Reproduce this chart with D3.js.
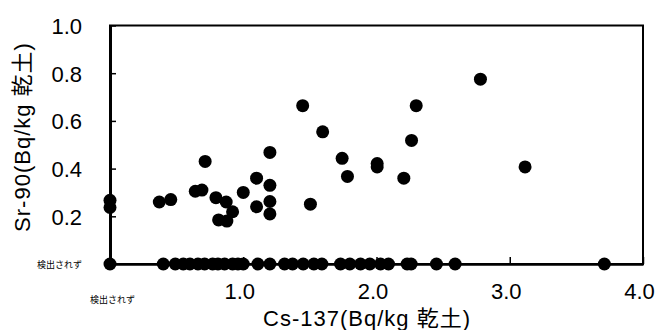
<!DOCTYPE html>
<html><head><meta charset="utf-8">
<script src="https://cdn.jsdelivr.net/npm/d3@7"></script>
<style>
body{margin:0;background:#fff;}
svg text{font-family:"Liberation Sans",Arial,"Noto Sans CJK JP",sans-serif;fill:#000;}
</style></head>
<body><svg id="c" width="657" height="330"></svg>
<script>
// Detected pairs (Cs-137, Sr-90) in Bq/kg dry soil
const detectedCs = [0.37,0.456,0.64,0.69,0.714,0.795,0.815,0.872,0.877,0.92,1.0,1.10,1.10,1.20,1.20,1.20,1.20,1.446,1.504,1.596,1.742,1.782,2.005,2.005,2.205,2.263,2.298,2.78,3.115];
const detectedSr = [0.26,0.27,0.305,0.31,0.43,0.278,0.185,0.26,0.18,0.219,0.30,0.36,0.24,0.468,0.33,0.262,0.21,0.664,0.251,0.554,0.443,0.367,0.421,0.407,0.36,0.518,0.664,0.775,0.407];
// Sr-90 not detected (plotted on x axis), Cs-137 values
const srNotDetectedCs = [0,0.40,0.49,0.55,0.60,0.66,0.71,0.77,0.81,0.86,0.92,0.96,1.0,1.11,1.20,1.31,1.37,1.45,1.53,1.59,1.73,1.80,1.88,1.95,2.03,2.09,2.23,2.26,2.45,2.59,3.71];
// Cs-137 not detected (plotted on y axis), Sr-90 values
const csNotDetectedSr = [0.267,0.237];

const xTicks = [0,1,2,3,4];
const yTicks = [0,0.2,0.4,0.6,0.8,1.0];
const xTickLabels = ["検出されず","1.0","2.0","3.0","4.0"];
const yTickLabels = ["検出されず","0.2","0.4","0.6","0.8","1.0"];
const xTitle = "Cs-137(Bq/kg 乾土)";
const yTitle = "Sr-90(Bq/kg 乾土)";

const svg = d3.select("#c");
const x = d3.scaleLinear().domain([0,4]).range([110,643]);
const y = d3.scaleLinear().domain([0,1]).range([264,25.5]);

// plot frame
svg.append("rect")
  .attr("x", x(0)).attr("y", y(1))
  .attr("width", x(4)-x(0)).attr("height", y(0)-y(1))
  .attr("fill","none").attr("stroke","#000").attr("stroke-width",2);

// axes
const yAxis = d3.axisLeft(y).tickValues(yTicks).tickSizeInner(-6).tickSizeOuter(0).tickPadding(28)
  .tickFormat((d,i)=>yTickLabels[i]);
const gy = svg.append("g").attr("transform",`translate(${x(0)},0)`).call(yAxis);
gy.select(".domain").attr("stroke-width",3);
gy.selectAll(".tick line").attr("stroke-width",1.5);
gy.selectAll(".tick text").style("font-size","22px").attr("dy","0.36em");
gy.selectAll(".tick text").filter(d=>d===0).style("font-size","9px").attr("dy","0.36em");

const xAxis = d3.axisBottom(x).tickValues(xTicks).tickSizeInner(-7).tickSizeOuter(0).tickPadding(19)
  .tickFormat((d,i)=>xTickLabels[i]);
const gx = svg.append("g").attr("transform",`translate(0,${y(0)})`).call(xAxis);
gx.select(".domain").attr("stroke-width",2.5);
gx.selectAll(".tick line").attr("stroke-width",1.5);
gx.selectAll(".tick text").style("font-size","22px").attr("dx","-4");
gx.selectAll(".tick text").filter(d=>d===0).style("font-size","9px").attr("y",36).attr("dy","0.36em").attr("dx","2");

// titles
svg.append("text").attr("transform",`translate(22,137) rotate(-90)`)
  .attr("text-anchor","middle").attr("dy","0.36em").style("font-size","22px").style("letter-spacing","1px").text(yTitle);
svg.append("text").attr("x",367).attr("y",318)
  .attr("text-anchor","middle").attr("dy","0.36em").style("font-size","22px").style("letter-spacing","1px").text(xTitle);

// points
const r = 6.5;
const pts = svg.append("g");
pts.selectAll("circle.nd-sr").data(srNotDetectedCs).join("circle").attr("class","nd-sr")
  .attr("cx",d=>x(d)).attr("cy",y(0)).attr("r",r).attr("fill","#000");
pts.selectAll("circle.nd-cs").data(csNotDetectedSr).join("circle").attr("class","nd-cs")
  .attr("cx",x(0)).attr("cy",d=>y(d)).attr("r",r).attr("fill","#000");
pts.selectAll("circle.det").data(detectedCs.map((c,i)=>[c,detectedSr[i]])).join("circle").attr("class","det")
  .attr("cx",d=>x(d[0])).attr("cy",d=>y(d[1])).attr("r",r).attr("fill","#000");
</script></body></html>
